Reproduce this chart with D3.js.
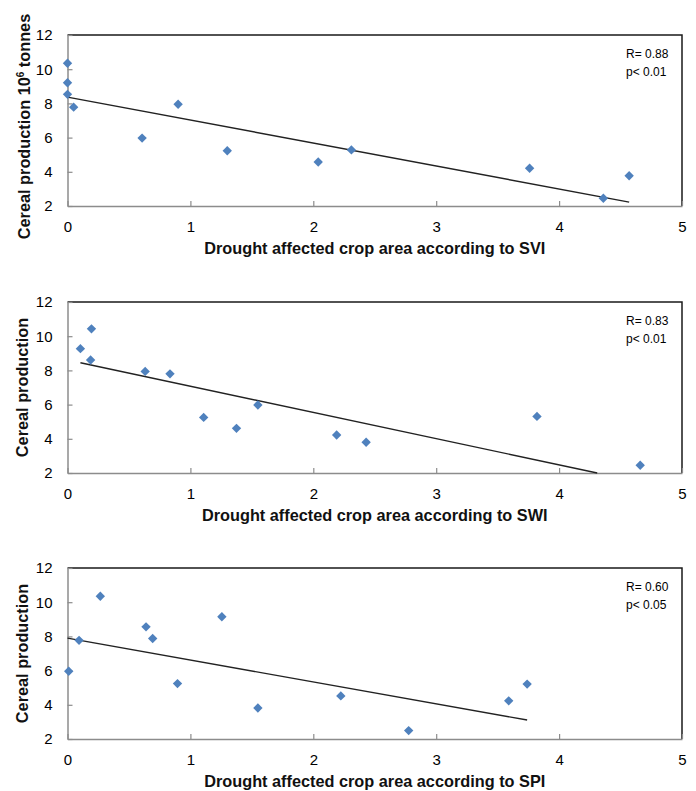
<!DOCTYPE html>
<html>
<head>
<meta charset="utf-8">
<script src="https://cdn.jsdelivr.net/npm/d3@7"></script>
<style>
  body { margin: 0; background: #fff; }
  svg { display: block; }
</style>
</head>
<body>
<div id="chart"></div>
<script>
// drought affected crop area (x) and cereal production (y), one pair per panel
const sviArea = [0, 0, 0, 0.05, 0.607, 0.9, 1.3, 2.04, 2.31, 3.76, 4.36, 4.57];
const sviProd = [10.35, 9.21, 8.53, 7.78, 5.97, 7.95, 5.23, 4.57, 5.28, 4.21, 2.45, 3.77];

const swiArea = [0.105, 0.195, 0.188, 0.632, 0.834, 1.108, 1.375, 1.549, 2.19, 2.43, 3.82, 4.66];
const swiProd = [9.27, 10.43, 8.61, 7.94, 7.8, 5.25, 4.61, 5.98, 4.22, 3.8, 5.31, 2.45];

const spiArea = [0.01, 0.094, 0.267, 0.639, 0.693, 0.895, 1.256, 1.549, 2.224, 2.776, 3.59, 3.74];
const spiProd = [5.96, 7.77, 10.35, 8.56, 7.88, 5.24, 9.15, 3.81, 4.52, 2.49, 4.23, 5.21];

// trend line end points
const sviTrendX = [0, 4.57], sviTrendY = [8.37, 2.23];
const swiTrendX = [0.105, 4.31], swiTrendY = [8.45, 2.0];
const spiTrendX = [0, 3.74], spiTrendY = [7.9, 3.11];

const indexNames = ["SVI", "SWI", "SPI"];
const rValues = ["R= 0.88", "R= 0.83", "R= 0.60"];
const pValues = ["p< 0.01", "p< 0.01", "p< 0.05"];

const xTicks = [0, 1, 2, 3, 4, 5];
const yTicks = [2, 4, 6, 8, 10, 12];

const panels = [
    { area: sviArea, prod: sviProd, tx: sviTrendX, ty: sviTrendY },
    { area: swiArea, prod: swiProd, tx: swiTrendX, ty: swiTrendY },
    { area: spiArea, prod: spiProd, tx: spiTrendX, ty: spiTrendY }
];

const width = 696, height = 791;
const left = 67.5, right = 682;
const panelTops = [35, 302, 568];
const panelH = 171;
const blue = "#4F81BD";
const axisGray = "#8c8c8c";

const svg = d3.select("#chart")
    .append("svg")
    .attr("width", width)
    .attr("height", height)
    .style("font-family", "'Liberation Sans', Arial, sans-serif");

const x = d3.scaleLinear().domain([0, 5]).range([left, right]);
const diamond = d3.symbol().type(d3.symbolSquare).size(44);

panels.forEach((p, i) => {
    const top = panelTops[i];
    const bottom = top + panelH;
    const y = d3.scaleLinear().domain([2, 12]).range([bottom, top]);
    const g = svg.append("g");

    // plot area border (top + right)
    g.append("path")
        .attr("d", `M${left},${top}H${right}V${bottom}`)
        .attr("fill", "none")
        .attr("stroke", "#1a1a1a")
        .attr("stroke-width", 1.5);

    // y axis, inward ticks
    const yAxis = g.append("g")
        .attr("transform", `translate(${left},0)`)
        .call(d3.axisLeft(y).tickValues(yTicks).tickFormat(d3.format("d"))
            .tickSizeInner(-5).tickSizeOuter(0).tickPadding(15));

    // x axis
    const xAxis = g.append("g")
        .attr("transform", `translate(0,${bottom})`)
        .call(d3.axisBottom(x).tickValues(xTicks).tickFormat(d3.format("d"))
            .tickSizeInner(-5).tickSizeOuter(0).tickPadding(15.5));

    [yAxis, xAxis].forEach(a => {
        a.select(".domain").attr("stroke", axisGray).attr("stroke-width", 1.5);
        a.selectAll(".tick line").attr("stroke", axisGray).attr("stroke-width", 1.2);
        a.selectAll(".tick text")
            .attr("fill", "#000")
            .style("font-family", "'Liberation Sans', Arial, sans-serif")
            .style("font-size", "15px");
    });

    // trend line
    g.append("path")
        .datum(d3.zip(p.tx, p.ty))
        .attr("d", d3.line().x(d => x(d[0])).y(d => y(d[1])))
        .attr("fill", "none")
        .attr("stroke", "#222")
        .attr("stroke-width", 1.4);

    // points
    g.selectAll("path.pt")
        .data(d3.zip(p.area, p.prod))
        .enter()
        .append("path")
        .attr("class", "pt")
        .attr("d", diamond)
        .attr("transform", d => `translate(${x(d[0])},${y(d[1])}) rotate(45)`)
        .attr("fill", blue);

    // statistics
    g.append("text")
        .attr("x", right - 56)
        .attr("y", top + 23)
        .attr("font-size", "12px")
        .attr("fill", "#000")
        .text(rValues[i]);
    g.append("text")
        .attr("x", right - 56)
        .attr("y", top + 40.5)
        .attr("font-size", "12px")
        .attr("fill", "#000")
        .text(pValues[i]);

    // x title
    g.append("text")
        .attr("x", (left + right) / 2)
        .attr("y", bottom + 47.5)
        .attr("text-anchor", "middle")
        .attr("font-size", "16.3px")
        .attr("font-weight", "bold")
        .attr("fill", "#111")
        .text(`Drought affected crop area according to ${indexNames[i]}`);

    // y title
    const yt = g.append("text")
        .attr("transform", `translate(${i === 0 ? 29.5 : 27.5},${(top + bottom) / 2 + (i === 0 ? 6 : 0)}) rotate(-90)`)
        .attr("text-anchor", "middle")
        .attr("font-size", "16.3px")
        .attr("font-weight", "bold")
        .attr("fill", "#111");
    if (i === 0) {
        yt.append("tspan").text("Cereal production 10");
        yt.append("tspan").attr("dy", -6).attr("font-size", "10px").text("6");
        yt.append("tspan").attr("dy", 6).text(" tonnes");
    } else {
        yt.text("Cereal production");
    }
});
</script>
</body>
</html>
